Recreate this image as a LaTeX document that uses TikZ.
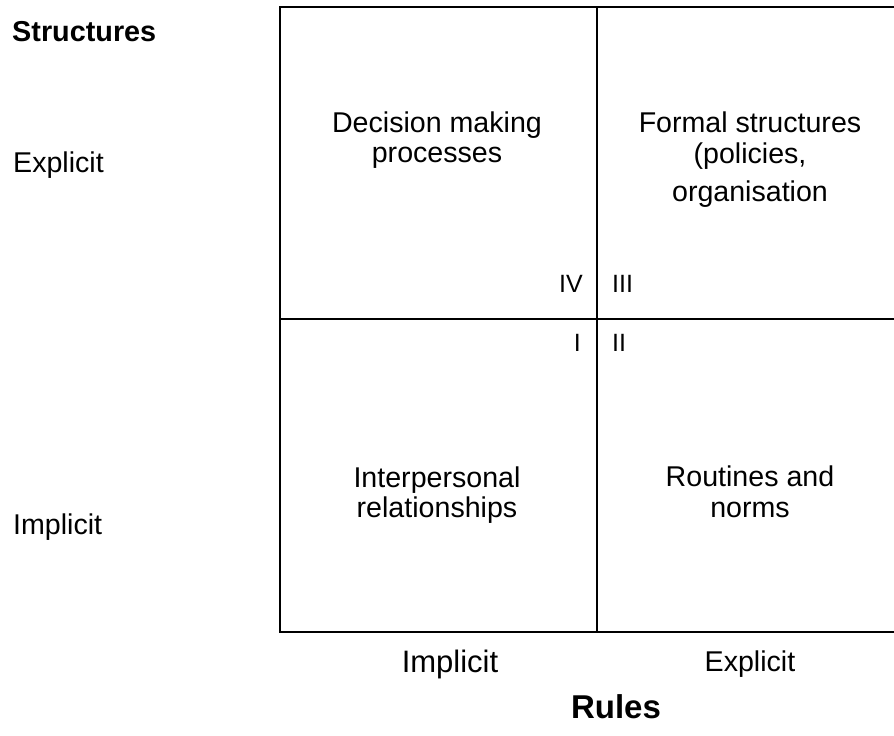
\documentclass[tikz,border=0pt]{standalone}
\usepackage{fontspec}
\setmainfont{Liberation Sans}
\begin{document}
\begin{tikzpicture}[x=1pt,y=-1pt,
  grid/.style={line width=2pt,black},
  lbl/.style={inner sep=0pt,font=\fontsize{28.6}{30.5}\selectfont,align=center},
  head/.style={inner sep=0pt,font=\fontsize{28.8}{31}\selectfont\bfseries},
  num/.style={inner sep=0pt,font=\fontsize{25}{28}\selectfont}]
\useasboundingbox (0,0) rectangle (894,736);
% quadrant grid, open on the right where it runs off the page
\coordinate (tl) at (280,7);
\coordinate (bl) at (280,632);
\coordinate (tr) at (910,7);
\coordinate (br) at (910,632);
\coordinate (mt) at (597,7);
\coordinate (mb) at (597,632);
\coordinate (ml) at (280,319);
\coordinate (mr) at (910,319);
\begin{scope}
\clip (0,0) rectangle (894,736);
\draw[grid] (tr) -- (tl) -- (bl) -- (br);
\draw[grid] (mt) -- (mb);
\draw[grid] (ml) -- (mr);
\end{scope}
% axis headings and levels
\node[head,anchor=west] (structures) at (12,32) {Structures};
\node[lbl,anchor=west] (yexp) at (13,165) {Explicit};
\node[lbl,anchor=west] (yimp) at (13,527) {Implicit};
\node[lbl,font=\fontsize{31}{33}\selectfont] (ximp) at (450,664) {Implicit};
\node[lbl] (xexp) at (750,664) {Explicit};
\node[head,font=\fontsize{33}{35}\selectfont\bfseries] (rules) at (616,707) {Rules};
% quadrant contents
\node[lbl] (q4) at (437,140) {Decision making\\processes};
\node[lbl] (q3) at (750,160) {Formal structures\\(policies,\\[8pt]organisation};
\node[lbl] (q1) at (437,495) {Interpersonal\\relationships};
\node[lbl] (q2) at (750,492) {Routines and\\norms};
% quadrant numbers
\node[num,anchor=east] (n4) at (583,284) {IV};
\node[num,anchor=west] (n3) at (612,284) {III};
\node[num,anchor=east] (n1) at (581,343) {I};
\node[num,anchor=west] (n2) at (612,343) {II};
\end{tikzpicture}
\end{document}
